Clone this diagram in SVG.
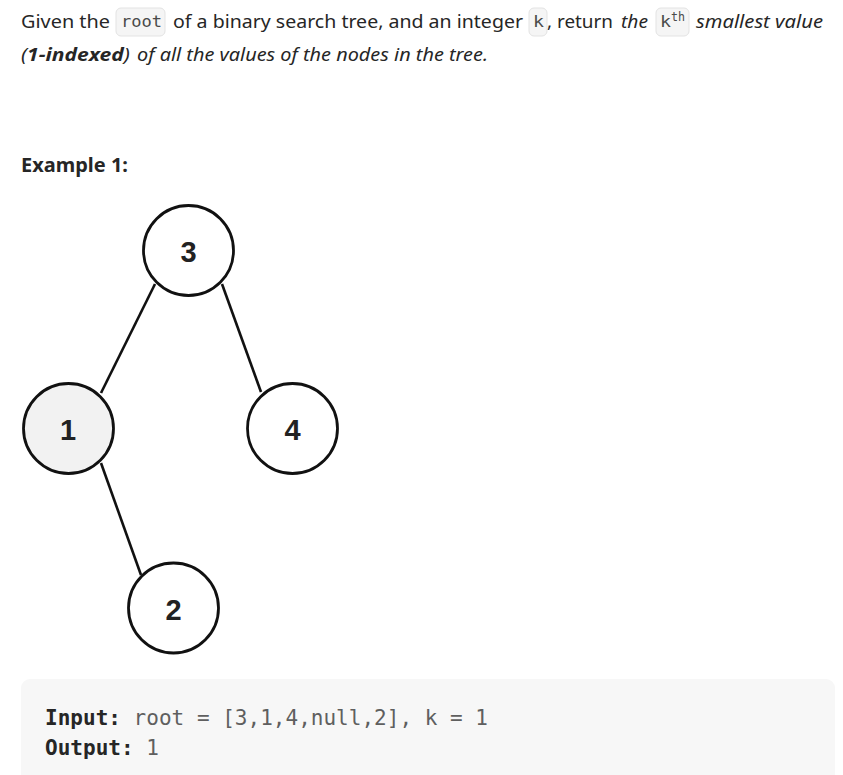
<svg xmlns="http://www.w3.org/2000/svg" width="843" height="775" viewBox="0 0 843 775">
<style>
.t{font-family:"Noto Sans","Open Sans",sans-serif;font-size:18px;fill:#262626}
.i{font-style:italic}
.b{font-weight:bold}
.pill{fill:#f5f5f5;stroke:#e3e3e3;stroke-width:1}
.mono{font-family:"DejaVu Sans Mono","Liberation Mono",monospace;font-size:16px;fill:#4a4a4a}
.code{font-family:"DejaVu Sans Mono","Liberation Mono",monospace;font-size:21px;fill:#5f5f5f}
.codeb{font-weight:bold;fill:#262626}
.node circle{fill:#ffffff;stroke:#111111;stroke-width:2.8}
.node text{font-family:"Liberation Sans",Arial,sans-serif;font-size:29px;font-weight:bold;fill:#222222;text-anchor:middle}
.edge{stroke:#111111;stroke-width:2.6;fill:none}
</style>
<rect x="0" y="0" width="843" height="775" fill="#ffffff"/>
<!-- description line 1 -->
<text class="t" x="21" y="28" textLength="89" lengthAdjust="spacingAndGlyphs">Given the</text>
<rect class="pill" x="116" y="8" width="49" height="28" rx="5"/>
<text class="mono" x="121" y="27" textLength="41" lengthAdjust="spacingAndGlyphs">root</text>
<text class="t" x="173" y="28" textLength="350" lengthAdjust="spacingAndGlyphs">of a binary search tree, and an integer</text>
<rect class="pill" x="529" y="8" width="18" height="28" rx="5"/>
<text class="mono" x="533" y="27" textLength="11" lengthAdjust="spacingAndGlyphs">k</text>
<text class="t" x="547" y="28" textLength="66" lengthAdjust="spacingAndGlyphs">, return</text>
<text class="t i" x="621" y="28" textLength="27" lengthAdjust="spacingAndGlyphs">the</text>
<rect class="pill" x="656" y="8" width="33" height="28" rx="5"/>
<text class="mono" x="660" y="27" textLength="11" lengthAdjust="spacingAndGlyphs">k</text>
<text class="mono" x="671" y="21" style="font-size:12px" textLength="14" lengthAdjust="spacingAndGlyphs">th</text>
<text class="t i" x="696" y="28" textLength="127" lengthAdjust="spacingAndGlyphs">smallest value</text>
<!-- description line 2 -->
<text class="t i" x="21" y="61" textLength="109" lengthAdjust="spacingAndGlyphs">(<tspan class="b">1-indexed</tspan>)</text>
<text class="t i" x="137" y="61" textLength="351" lengthAdjust="spacingAndGlyphs">of all the values of the nodes in the tree.</text>
<!-- heading -->
<text class="t b" x="21" y="172" style="font-size:19px" textLength="107" lengthAdjust="spacingAndGlyphs">Example 1:</text>
<!-- connectors -->
<g id="connectors">
<line class="edge" x1="155" y1="284" x2="101" y2="393"/>
<line class="edge" x1="222" y1="284" x2="261" y2="392"/>
<line class="edge" x1="101" y1="463" x2="141" y2="575"/>
</g>
<!-- nodes -->
<g id="node-3" class="node"><circle cx="188.5" cy="250.5" r="45"/><text x="188.5" y="262">3</text></g>
<g id="node-1" class="node"><circle cx="68.5" cy="428.5" r="45" style="fill:#f2f2f2"/><text x="68" y="440">1</text></g>
<g id="node-4" class="node"><circle cx="292.5" cy="428.5" r="45"/><text x="292.5" y="440">4</text></g>
<g id="node-2" class="node"><circle cx="173.5" cy="608" r="45"/><text x="173.5" y="620">2</text></g>
<!-- code block -->
<rect x="21" y="679" width="814" height="130" rx="9" fill="#f7f7f7"/>
<text class="code" x="45" y="725" textLength="443" lengthAdjust="spacingAndGlyphs"><tspan class="codeb">Input:</tspan> root = [3,1,4,null,2], k = 1</text>
<text class="code" x="45" y="755" textLength="114" lengthAdjust="spacingAndGlyphs"><tspan class="codeb">Output:</tspan> 1</text>
</svg>
